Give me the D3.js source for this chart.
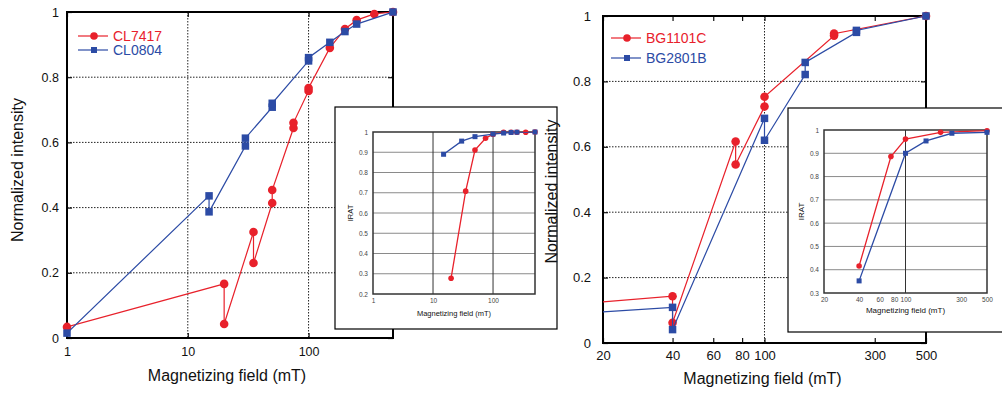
<!DOCTYPE html>
<html>
<head>
<meta charset="utf-8">
<script src="https://cdn.jsdelivr.net/npm/d3@7"></script>
<style>
  body { margin: 0; background: #fff; }
  svg { display: block; font-family: "Liberation Sans", Arial, sans-serif; }
</style>
</head>
<body>
<div id="vis"></div>
<script>
const FRAME_WIDTH = 1002;
const FRAME_HEIGHT = 394;
const RED = "#e8212b";
const BLUE = "#2c4ba5";

// left chart, main plot (field in mT, normalized intensity)
const cl7417Field = [1, 20, 20, 35, 35, 50, 50, 75, 75, 100, 100, 150, 200, 250, 350, 500];
const cl7417Value = [0.034, 0.166, 0.043, 0.325, 0.23, 0.414, 0.454, 0.644, 0.66, 0.758, 0.767, 0.89, 0.948, 0.975, 0.994, 1.0];
const cl0804Field = [1, 15, 15, 30, 30, 50, 50, 100, 100, 150, 200, 250, 500];
const cl0804Value = [0.015, 0.436, 0.387, 0.589, 0.613, 0.708, 0.72, 0.85, 0.86, 0.907, 0.94, 0.963, 1.0];

// left chart, inset (IRAT)
const cl7417IratField = [20, 35, 50, 75, 100, 150, 200, 250, 350, 500];
const cl7417Irat = [0.278, 0.708, 0.911, 0.969, 0.989, 0.999, 0.999, 0.999, 0.999, 1.0];
const cl0804IratField = [15, 30, 50, 100, 150, 200, 250, 500];
const cl0804Irat = [0.89, 0.955, 0.977, 0.99, 0.995, 0.998, 0.999, 1.0];

// right chart, main plot
const bg1101cField = [10, 40, 40, 75, 75, 100, 100, 200, 200, 500];
const bg1101cValue = [0.109, 0.143, 0.062, 0.616, 0.546, 0.723, 0.753, 0.94, 0.946, 1.0];
const bg2801bField = [10, 40, 40, 100, 100, 150, 150, 250, 250, 500];
const bg2801bValue = [0.081, 0.109, 0.041, 0.687, 0.62, 0.821, 0.858, 0.95, 0.956, 1.0];

// right chart, inset
const bg1101cIratField = [40, 75, 100, 200, 500];
const bg1101cIrat = [0.416, 0.886, 0.961, 0.99, 0.997];
const bg2801bIratField = [40, 100, 150, 250, 500];
const bg2801bIrat = [0.352, 0.9, 0.953, 0.986, 0.99];

// tick labels
const leftXTicks = [1, 10, 100];
const rightXTicks = [20, 40, 60, 80, 100, 300, 500];
const mainYTicks = [0, 0.2, 0.4, 0.6, 0.8, 1];
const leftInsetYTicks = [0.2, 0.3, 0.4, 0.5, 0.6, 0.7, 0.8, 0.9, 1];
const rightInsetYTicks = [0.3, 0.4, 0.5, 0.6, 0.7, 0.8, 0.9, 1];

const SVG = d3.select("#vis")
  .append("svg")
    .attr("width", FRAME_WIDTH)
    .attr("height", FRAME_HEIGHT);

let clipId = 0;

// draws one framed log-x plot with its series
function drawPanel(o) {
  const g = SVG.append("g").attr("transform", "translate(" + o.x + "," + o.y + ")");

  const X = d3.scaleLog().domain(o.xDomain).range([0, o.w]);
  const Y = d3.scaleLinear().domain(o.yDomain).range([o.h, 0]);

  g.append("rect").attr("width", o.w).attr("height", o.h).attr("fill", "#fff");

  // grid
  const gridStyle = o.inset
    ? {stroke: "#8a8a8a", dash: null, width: 1}
    : {stroke: "#222", dash: "1.5,1.5", width: 1};
  g.selectAll(".gy").data(o.yTicks.filter(v => v > o.yDomain[0] && v < o.yDomain[1]))
    .enter().append("line")
      .attr("x1", 0).attr("x2", o.w)
      .attr("y1", d => Y(d)).attr("y2", d => Y(d))
      .attr("stroke", gridStyle.stroke).attr("stroke-width", gridStyle.width)
      .attr("stroke-dasharray", gridStyle.dash);
  g.selectAll(".gx").data(o.xGrid)
    .enter().append("line")
      .attr("y1", 0).attr("y2", o.h)
      .attr("x1", d => X(d)).attr("x2", d => X(d))
      .attr("stroke", o.inset ? "#333" : "#222").attr("stroke-width", 1)
      .attr("stroke-dasharray", gridStyle.dash);

  // axes with inward ticks
  const tk = o.inset ? 0 : -5;
  const bottom = g.append("g").attr("transform", "translate(0," + o.h + ")")
    .call(d3.axisBottom(X).tickValues(o.xTicks).tickFormat(d3.format("d"))
      .tickSize(tk).tickPadding(o.xPad));
  const left = g.append("g")
    .call(d3.axisLeft(Y).tickValues(o.yTicks).tickFormat(d => d3.format("")(+d.toFixed(1)))
      .tickSize(tk).tickPadding(o.yPad));
  if (!o.inset) {
    g.append("g").attr("transform", "translate(" + o.w + ",0)")
      .call(d3.axisRight(Y).tickValues(o.yTicks).tickFormat("").tickSize(tk));
    g.append("g")
      .call(d3.axisTop(X).tickValues(o.xTicks).tickFormat("").tickSize(tk));
  }
  g.selectAll(".domain").remove();
  g.selectAll(".tick line").attr("stroke", "#111").attr("stroke-width", 1.2);
  [bottom, left].forEach(a => a.selectAll("text")
    .attr("font-size", o.fontSize).attr("fill", o.inset ? "#444" : "#111")
    .attr("font-family", "Liberation Sans, Arial, sans-serif"));

  // frame
  g.append("rect").attr("width", o.w).attr("height", o.h)
    .attr("fill", "none").attr("stroke", o.inset ? "#333" : "#000")
    .attr("stroke-width", o.inset ? 1.5 : 2);

  // series
  const cid = "clip" + (clipId++);
  g.append("clipPath").attr("id", cid)
    .append("rect").attr("width", o.w).attr("height", o.h);

  const line = d3.line().x(d => X(d[0])).y(d => Y(d[1]));
  o.series.forEach(s => {
    const pts = d3.zip(s.field, s.value);
    g.append("path").datum(pts)
      .attr("clip-path", "url(#" + cid + ")")
      .attr("fill", "none").attr("stroke", s.color).attr("stroke-width", o.inset ? 1.3 : 1.2)
      .attr("d", line);
    const shown = pts.filter(d => d[0] >= o.xDomain[0] && d[0] <= o.xDomain[1]);
    if (s.shape === "circle") {
      g.selectAll(null).data(shown).enter().append("circle")
        .attr("cx", d => X(d[0])).attr("cy", d => Y(d[1]))
        .attr("r", o.inset ? 2.8 : 4.3).attr("fill", s.color);
    } else {
      const sz = o.inset ? 5 : 7.5;
      g.selectAll(null).data(shown).enter().append("rect")
        .attr("x", d => X(d[0]) - sz / 2).attr("y", d => Y(d[1]) - sz / 2)
        .attr("width", sz).attr("height", sz).attr("fill", s.color);
    }
  });

  // legend
  if (o.legend) {
    o.series.forEach((s, i) => {
      const ly = o.legend.y + i * o.legend.dy;
      const lg = g.append("g").attr("transform", "translate(" + o.legend.x + "," + ly + ")");
      lg.append("line").attr("x1", 0).attr("x2", 30).attr("stroke", s.color).attr("stroke-width", 1.2);
      if (s.shape === "circle") {
        lg.append("circle").attr("cx", 16).attr("r", 3.8).attr("fill", s.color);
      } else {
        lg.append("rect").attr("x", 13).attr("y", -3).attr("width", 6).attr("height", 6).attr("fill", s.color);
      }
      lg.append("text").attr("x", 35).attr("y", 5).attr("font-size", 14)
        .attr("fill", s.color).text(s.name);
    });
  }

  // axis titles
  g.append("text").attr("x", o.w / 2 + (o.xTitleDx || 0)).attr("y", o.h + o.xTitleY)
    .attr("text-anchor", "middle").attr("font-size", o.titleSize).attr("fill", "#111")
    .text("Magnetizing field (mT)");
  g.append("text")
    .attr("transform", "translate(" + o.yTitleX + "," + (o.h / 2 + (o.yTitleDy || 0)) + ") rotate(-90)")
    .attr("text-anchor", "middle").attr("font-size", o.titleSize).attr("fill", "#111")
    .text(o.yTitle);
}

// left chart
drawPanel({
  x: 67, y: 12, w: 326, h: 326,
  xDomain: [1, 500], yDomain: [0, 1],
  xTicks: leftXTicks, yTicks: mainYTicks, xGrid: [10, 100],
  xPad: 9, yPad: 8, fontSize: 12.5, titleSize: 16,
  xTitleY: 43, xTitleDx: -3, yTitleX: -44, yTitleDy: -5, yTitle: "Normalized intensity",
  legend: {x: 11, y: 24, dy: 14},
  series: [
    {name: "CL7417", field: cl7417Field, value: cl7417Value, color: RED, shape: "circle"},
    {name: "CL0804", field: cl0804Field, value: cl0804Value, color: BLUE, shape: "square"}
  ]
});

// left inset box
SVG.append("rect").attr("x", 335).attr("y", 107).attr("width", 222).attr("height", 222)
  .attr("fill", "#fff").attr("stroke", "#000").attr("stroke-width", 1.2);
drawPanel({
  x: 373, y: 132, w: 162, h: 162, inset: true,
  xDomain: [1, 500], yDomain: [0.2, 1],
  xTicks: leftXTicks, yTicks: leftInsetYTicks, xGrid: [10, 100],
  xPad: 4, yPad: 5, fontSize: 6.5, titleSize: 7.5,
  xTitleY: 22, yTitleX: -20, yTitle: "IRAT",
  series: [
    {name: "CL7417", field: cl7417IratField, value: cl7417Irat, color: RED, shape: "circle"},
    {name: "CL0804", field: cl0804IratField, value: cl0804Irat, color: BLUE, shape: "square"}
  ]
});

// right chart
drawPanel({
  x: 603, y: 16, w: 323, h: 327,
  xDomain: [20, 500], yDomain: [0, 1],
  xTicks: rightXTicks, yTicks: mainYTicks, xGrid: [100],
  xPad: 8, yPad: 12, fontSize: 13, titleSize: 16,
  xTitleY: 41, xTitleDx: -2, yTitleX: -46, yTitleDy: 12, yTitle: "Normalized intensity",
  legend: {x: 8, y: 22, dy: 20},
  series: [
    {name: "BG1101C", field: bg1101cField, value: bg1101cValue, color: RED, shape: "circle"},
    {name: "BG2801B", field: bg2801bField, value: bg2801bValue, color: BLUE, shape: "square"}
  ]
});

// right inset box
SVG.append("rect").attr("x", 788).attr("y", 108).attr("width", 224).attr("height", 224)
  .attr("fill", "#fff").attr("stroke", "#000").attr("stroke-width", 1.2);
drawPanel({
  x: 824, y: 130, w: 163, h: 163, inset: true,
  xDomain: [20, 500], yDomain: [0.3, 1],
  xTicks: rightXTicks, yTicks: rightInsetYTicks, xGrid: [100],
  xPad: 4, yPad: 5, fontSize: 6.5, titleSize: 8,
  xTitleY: 20, yTitleX: -20, yTitle: "IRAT",
  series: [
    {name: "BG1101C", field: bg1101cIratField, value: bg1101cIrat, color: RED, shape: "circle"},
    {name: "BG2801B", field: bg2801bIratField, value: bg2801bIrat, color: BLUE, shape: "square"}
  ]
});
</script>
</body>
</html>
